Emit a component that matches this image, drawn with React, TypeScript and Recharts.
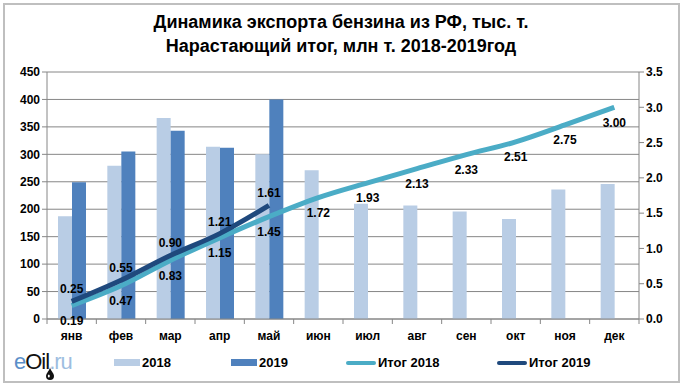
import React from "react";
import {
  ComposedChart,
  Bar,
  Line,
  XAxis,
  YAxis,
  CartesianGrid,
  LabelList,
} from "recharts";

const months = ["янв", "фев", "мар", "апр", "май", "июн", "июл", "авг", "сен", "окт", "ноя", "дек"];
const export2018 = [187, 279, 366, 314, 300, 271, 210, 207, 196, 182, 236, 246];
const export2019 = [249, 305, 343, 312, 400];
const total2018 = [0.19, 0.47, 0.83, 1.15, 1.45, 1.72, 1.93, 2.13, 2.33, 2.51, 2.75, 3.0];
const total2019 = [0.25, 0.55, 0.9, 1.21, 1.61];
const leftTicks = [0, 50, 100, 150, 200, 250, 300, 350, 400, 450];
const rightTicks = [0, 0.5, 1, 1.5, 2, 2.5, 3, 3.5];

const data = months.map((m, i) => ({
  month: m,
  y2018: export2018[i],
  y2019: export2019[i] ?? null,
  t2018: total2018[i],
  t2019: total2019[i] ?? null,
}));

const C2018 = "#b9cde5";
const C2019 = "#4f81bd";
const CT2018 = "#4bacc6";
const CT2019 = "#1f497d";
const FONT = "'Liberation Sans', Arial, sans-serif";
const NARROW = "'Liberation Sans Narrow', 'Arial Narrow', 'Liberation Sans', sans-serif";

const W = 682;
const H = 389;
const PLOT_LEFT = 47;
const PLOT_RIGHT = 639;
const band = (PLOT_RIGHT - PLOT_LEFT) / months.length;

function MonthTick(props: any) {
  const { x, y, payload, index } = props;
  return (
    <g>
      <line x1={x - band / 2} y1={y - 8} x2={x - band / 2} y2={y - 3} stroke="#868686" />
      {index === months.length - 1 && (
        <line x1={x + band / 2} y1={y - 8} x2={x + band / 2} y2={y - 3} stroke="#868686" />
      )}
      <text x={x} y={y + 13} textAnchor="middle" fontSize={12} fontWeight="bold" fill="#000" fontFamily={FONT}>
        {payload.value}
      </text>
    </g>
  );
}

function LegendItem({ color, label, line, width }: { color: string; label: string; line?: boolean; width: number }) {
  return (
    <div style={{ display: "flex", alignItems: "center", width }}>
      <div
        style={{
          width: line ? 30 : 26,
          height: line ? 4 : 7,
          borderRadius: line ? 2 : 0,
          background: color,
          marginRight: 2,
        }}
      />
      <span style={{ fontSize: 13, fontWeight: "bold", fontFamily: NARROW }}>{label}</span>
    </div>
  );
}

export default function App() {
  return (
    <div style={{ position: "relative", width: W, height: H, background: "#fff" }}>
      <style>{`body{margin:0}`}</style>
      <div
        style={{
          position: "absolute",
          left: 3,
          top: 3,
          width: 673,
          height: 376,
          border: "2px solid #bfbfbf",
        }}
      />
      <div
        style={{
          position: "absolute",
          left: 0,
          top: 10,
          width: W,
          textAlign: "center",
          fontFamily: NARROW,
          fontWeight: "bold",
          fontSize: 18,
          lineHeight: "24px",
        }}
      >
        Динамика экспорта бензина из РФ, тыс. т.
        <br />
        Нарастающий итог, млн т. 2018-2019год
      </div>
      <div style={{ position: "absolute", left: 0, top: 0 }}>
        <ComposedChart
          width={W}
          height={H}
          data={data}
          margin={{ top: 72, right: 3, bottom: 40, left: 7 }}
          barSize={14}
          barGap={0}
        >
          <CartesianGrid vertical={false} stroke="#868686" yAxisId="left" />
          <XAxis
            dataKey="month"
            axisLine={{ stroke: "#868686" }}
            tickLine={false}
            height={30}
            tick={<MonthTick />}
            interval={0}
          />
          <YAxis
            yAxisId="left"
            domain={[0, 450]}
            ticks={leftTicks}
            width={40}
            axisLine={{ stroke: "#868686" }}
            tickLine={{ stroke: "#868686" }}
            tickSize={5}
            tick={{ fontSize: 12, fontWeight: "bold", fill: "#000", fontFamily: FONT }}
          />
          <YAxis
            yAxisId="right"
            orientation="right"
            domain={[0, 3.5]}
            ticks={rightTicks}
            width={40}
            axisLine={{ stroke: "#868686" }}
            tickLine={{ stroke: "#868686" }}
            tickSize={5}
            tickFormatter={(v: number) => v.toFixed(1)}
            tick={{ fontSize: 12, fontWeight: "bold", fill: "#000", fontFamily: FONT }}
          />
          <Bar yAxisId="left" dataKey="y2018" fill={C2018} isAnimationActive={false} />
          <Bar yAxisId="left" dataKey="y2019" fill={C2019} isAnimationActive={false} />
          <Line
            yAxisId="right"
            type="monotone"
            dataKey="t2018"
            stroke={CT2018}
            strokeWidth={5}
            dot={false}
            isAnimationActive={false}
          >
            <LabelList
              dataKey="t2018"
              position="bottom"
              offset={11}
              formatter={(v: any) => (v == null ? "" : Number(v).toFixed(2))}
              style={{ fontSize: 12, fontWeight: "bold", fill: "#000", fontFamily: FONT }}
            />
          </Line>
          <Line
            yAxisId="right"
            type="monotone"
            dataKey="t2019"
            stroke={CT2019}
            strokeWidth={5}
            dot={false}
            connectNulls={false}
            isAnimationActive={false}
          >
            <LabelList
              dataKey="t2019"
              position="top"
              offset={8}
              formatter={(v: any) => (v == null ? "" : Number(v).toFixed(2))}
              style={{ fontSize: 12, fontWeight: "bold", fill: "#000", fontFamily: FONT }}
            />
          </Line>
        </ComposedChart>
      </div>
      <div
        style={{
          position: "absolute",
          left: 14,
          top: 349,
          fontFamily: FONT,
          fontSize: 22,
          letterSpacing: -1,
          lineHeight: "26px",
        }}
      >
        <span style={{ color: "#5b8fc9" }}>e</span>
        <span style={{ color: "#111" }}>Oil</span>
        <span style={{ color: "#9dbde0" }}>.ru</span>
      </div>
      {/* oil drop under the logo */}
      <svg style={{ position: "absolute", left: 45, top: 366 }} width={10} height={14}>
        <path d="M5 1 C5 4 1 7 1 10 A4 4 0 0 0 9 10 C9 7 5 4 5 1 Z" fill="#111" />
        <ellipse cx={3.8} cy={10} rx={1} ry={1.6} fill="#fff" />
      </svg>
      <div style={{ position: "absolute", left: 114, top: 355, display: "flex" }}>
        <LegendItem color={C2018} label="2018" width={117} />
        <LegendItem color={C2019} label="2019" width={115} />
        <LegendItem color={CT2018} label="Итог 2018" line width={151} />
        <LegendItem color={CT2019} label="Итог 2019" line width={120} />
      </div>
    </div>
  );
}
